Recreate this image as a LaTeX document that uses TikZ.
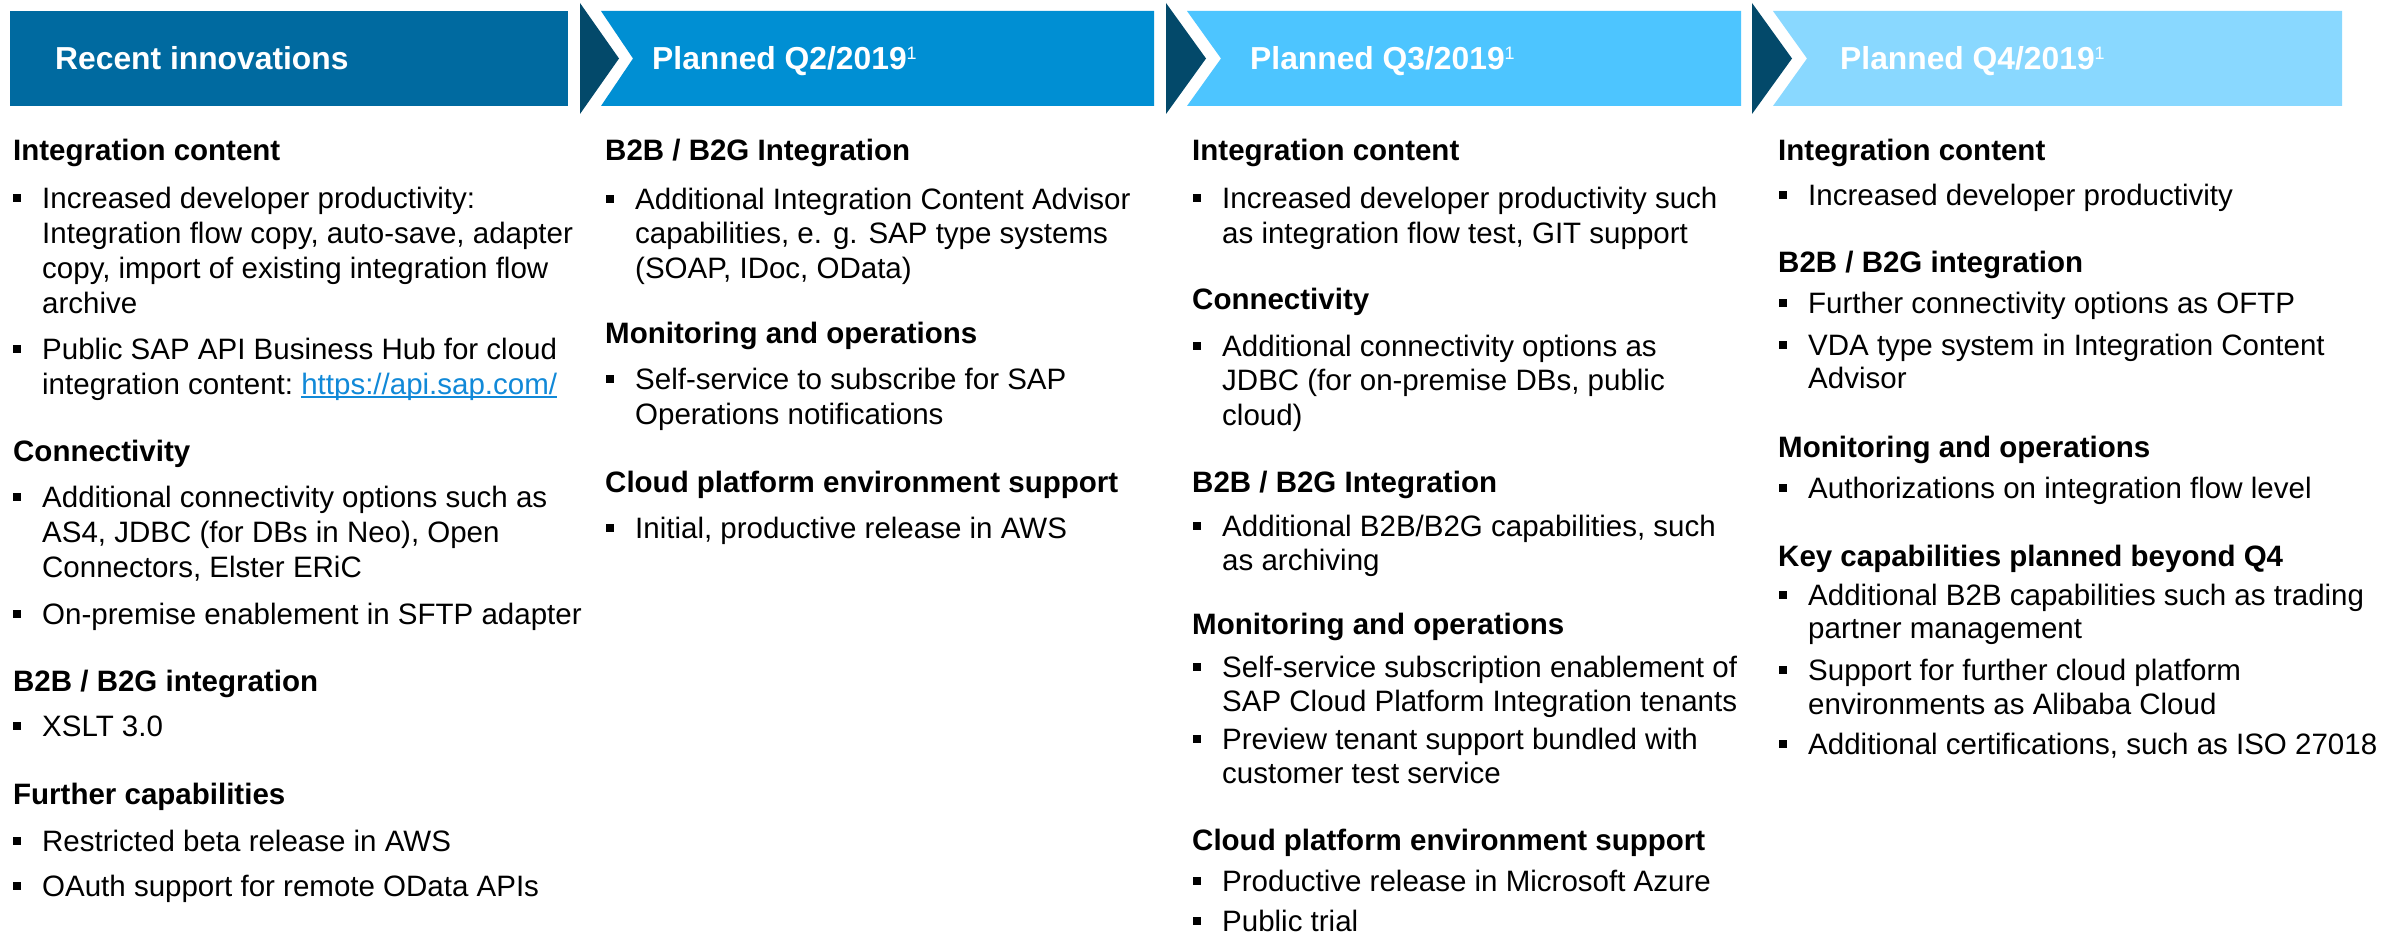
\documentclass[tikz,border=0pt]{standalone}
\usepackage{fontspec}
\setmainfont{Liberation Sans}
\usetikzlibrary{calc}
\definecolor{barA}{HTML}{006AA0}
\definecolor{barB}{HTML}{008FD3}
\definecolor{barC}{HTML}{4DC5FF}
\definecolor{barD}{HTML}{89D8FF}
\definecolor{chev}{HTML}{03496A}
\definecolor{linkc}{HTML}{1189D8}
\newcommand\ulink[1]{{\color{linkc}\setbox0\hbox{#1}\rlap{\rule[-3.5pt]{\wd0}{1.8pt}}\box0}}
\newcommand\supone{\raisebox{10pt}{\mdseries\fontsize{18}{18}\selectfont 1}}
\tikzset{
  itemtxt/.style={anchor=north west, inner sep=0pt, align=left, text=black},
  headtxt/.style={anchor=base west, inner sep=0pt, text=black, font=\bfseries\fontsize{29.5}{35}\selectfont},
  bartxt/.style={anchor=base west, inner sep=0pt, text=white, font=\bfseries\fontsize{31.8}{36}\selectfont},
  bulletbox/.style={fill=black}
}
% name, x, baseline, skip, text
\newcommand\itm[5]{%
  \fill[bulletbox] (#2-29.5,#3-14.25) rectangle ++(8.5,8.5);
  \node[itemtxt, font=\fontsize{29.5}{#4}\selectfont] (#1) at (#2,#3-24) {\rule{0pt}{24pt}#5};
}
\begin{document}
\begin{tikzpicture}[x=1pt,y=-1pt]
\useasboundingbox (0,0) rectangle (2398,936);
\fill[white] (0,0) rectangle (2398,936);
% header bars
\fill[barA] (10,11) rectangle (568,106);
\fill[barB] (601,11) -- (1154,11) -- (1154,106) -- (601,106) -- (633,58.5) -- cycle;
\fill[barC] (1187,11) -- (1741,11) -- (1741,106) -- (1187,106) -- (1221,58.5) -- cycle;
\fill[barD] (1773,11) -- (2342,11) -- (2342,106) -- (1773,106) -- (1807,58.5) -- cycle;
% chevrons
\fill[chev] (580,3) -- (619,58.5) -- (580,114) -- cycle;
\fill[chev] (1166,3) -- (1206,58.5) -- (1166,114) -- cycle;
\fill[chev] (1752,3) -- (1792,58.5) -- (1752,114) -- cycle;
% bar titles
\node[bartxt] (t1) at (55,70) {Recent innovations};
\node[bartxt] (t2) at (652,70) {Planned Q2/2019\supone};
\node[bartxt] (t3) at (1250,70) {Planned Q3/2019\supone};
\node[bartxt] (t4) at (1840,70) {Planned Q4/2019\supone};

% column 1
\node[headtxt] (h11) at (13,161) {Integration content};
\itm{c1a}{42}{208}{35}{Increased developer productivity:\\Integration flow copy, auto-save, adapter\\copy, import of existing integration flow\\archive}
\itm{c1b}{42}{359}{35}{Public SAP API Business Hub for cloud\\integration content:\ \ulink{https://api.sap.com/}}
\node[headtxt] (h12) at (13,461) {Connectivity};
\itm{c1c}{42}{507}{35}{Additional connectivity options such as\\AS4, JDBC (for DBs in Neo), Open\\Connectors, Elster ERiC}
\itm{c1d}{42}{624}{35}{On-premise enablement in SFTP adapter}
\node[headtxt] (h13) at (13,691) {B2B / B2G integration};
\itm{c1e}{42}{736}{35}{XSLT 3.0}
\node[headtxt] (h14) at (13,804) {Further capabilities};
\itm{c1f}{42}{851}{35}{Restricted beta release in AWS}
\itm{c1g}{42}{896}{35}{OAuth support for remote OData APIs}

% column 2
\node[headtxt] (h21) at (605,161) {B2B / B2G Integration};
\itm{c2a}{635}{209}{34.5}{Additional Integration Content Advisor\\capabilities, e. g. SAP type systems\\(SOAP, IDoc, OData)}
\node[headtxt] (h22) at (605,343) {Monitoring and operations};
\itm{c2b}{635}{389}{35}{Self-service to subscribe for SAP\\Operations notifications}
\node[headtxt] (h23) at (605,492) {Cloud platform environment support};
\itm{c2c}{635}{538}{35}{Initial, productive release in AWS}

% column 3
\node[headtxt] (h31) at (1192,161) {Integration content};
\itm{c3a}{1222}{208}{35}{Increased developer productivity such\\as integration flow test, GIT support}
\node[headtxt] (h32) at (1192,309) {Connectivity};
\itm{c3b}{1222}{356}{34.5}{Additional connectivity options as\\JDBC (for on-premise DBs, public\\cloud)}
\node[headtxt] (h33) at (1192,492) {B2B / B2G Integration};
\itm{c3c}{1222}{536}{34}{Additional B2B/B2G capabilities, such\\as archiving}
\node[headtxt] (h34) at (1192,634) {Monitoring and operations};
\itm{c3d}{1222}{677}{34}{Self-service subscription enablement of\\SAP Cloud Platform Integration tenants}
\itm{c3e}{1222}{749}{34}{Preview tenant support bundled with\\customer test service}
\node[headtxt] (h35) at (1192,850) {Cloud platform environment support};
\itm{c3f}{1222}{891}{34}{Productive release in Microsoft Azure}
\itm{c3g}{1222}{931}{34}{Public trial}

% column 4
\node[headtxt] (h41) at (1778,161) {Integration content};
\itm{c4a}{1808}{205}{34}{Increased developer productivity}
\node[headtxt] (h42) at (1778,272) {B2B / B2G integration};
\itm{c4b}{1808}{313}{34}{Further connectivity options as OFTP}
\itm{c4c}{1808}{355}{33}{VDA type system in Integration Content\\Advisor}
\node[headtxt] (h43) at (1778,457) {Monitoring and operations};
\itm{c4d}{1808}{498}{34}{Authorizations on integration flow level}
\node[headtxt] (h44) at (1778,566) {Key capabilities planned beyond Q4};
\itm{c4e}{1808}{605}{33.5}{Additional B2B capabilities such as trading\\partner management}
\itm{c4f}{1808}{680}{34}{Support for further cloud platform\\environments as Alibaba Cloud}
\itm{c4g}{1808}{754}{34}{Additional certifications, such as ISO 27018}
\end{tikzpicture}
\end{document}
